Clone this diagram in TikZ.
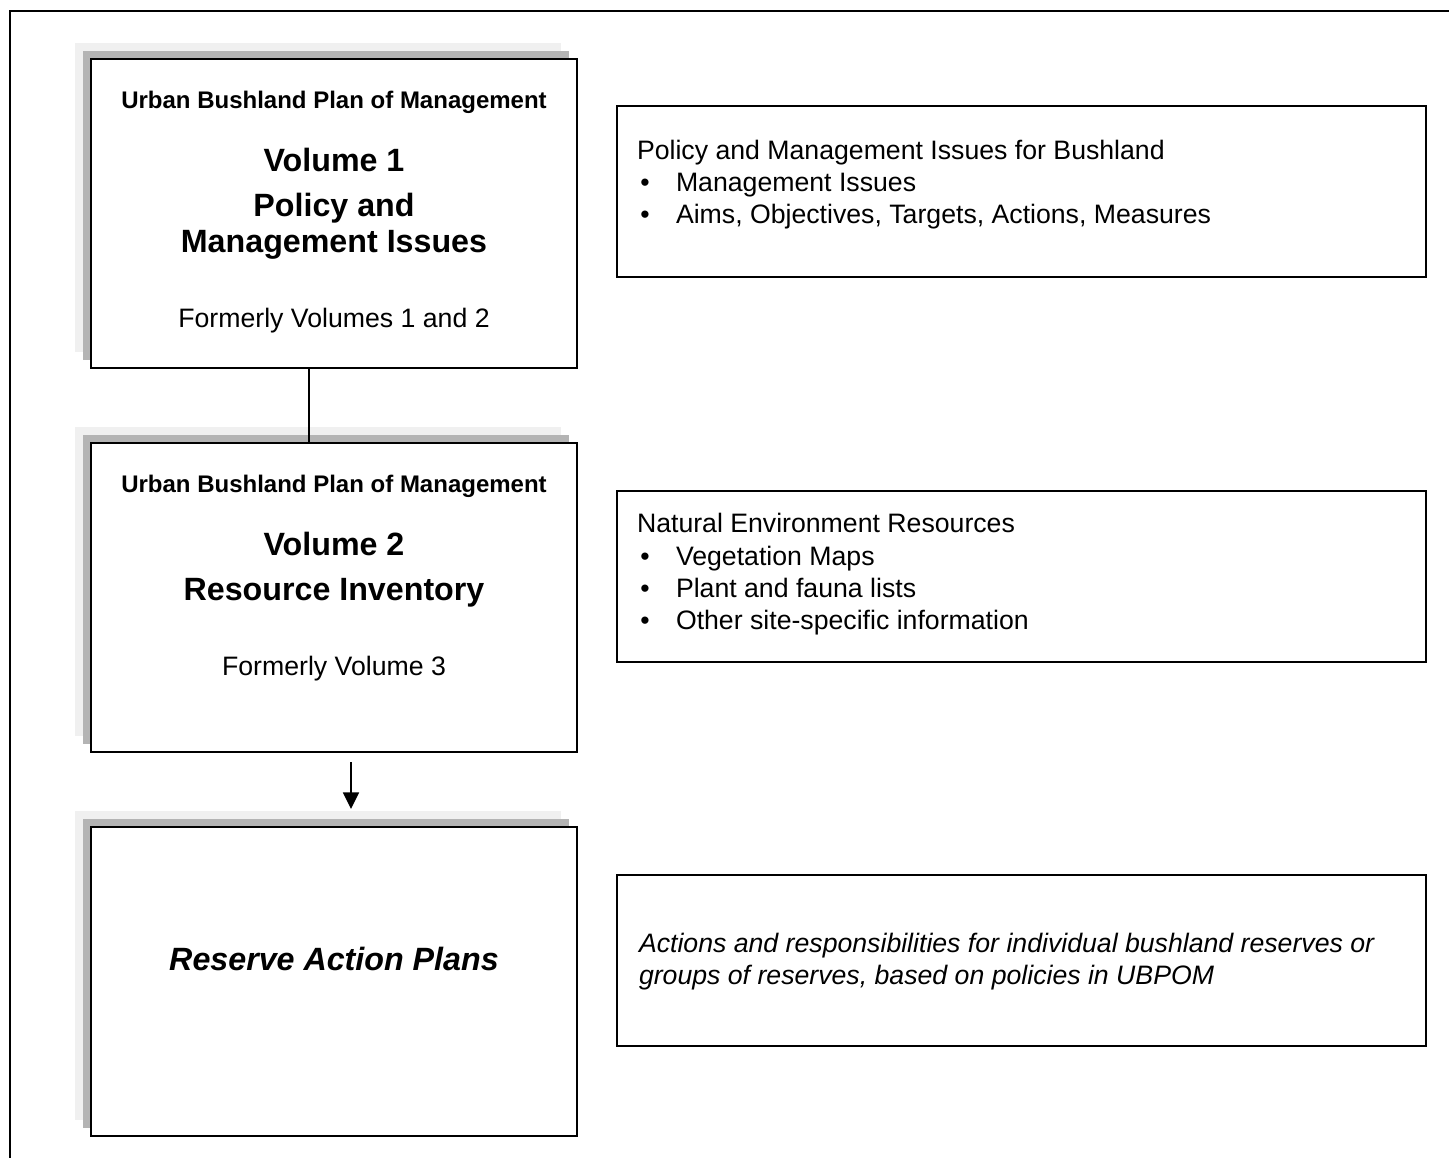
\documentclass[tikz,border=0pt]{standalone}
\usepackage{fontspec}
\setmainfont{Liberation Sans}
\usetikzlibrary{arrows.meta,backgrounds,calc}
\newcommand{\pxu}{0.45pt}
\definecolor{shadowdark}{RGB}{180,180,180}
\definecolor{shadowlight}{RGB}{240,240,240}
\begin{document}
\begin{tikzpicture}[x=0.45pt,y=-0.45pt,
  mainbox/.style={draw=black, line width=0.9pt, fill=white, minimum width=486*\pxu, minimum height=309*\pxu, inner sep=0pt, outer sep=0pt},
  notebox/.style={draw=black, line width=0.9pt, fill=white, minimum width=809*\pxu, minimum height=171*\pxu, inner sep=0pt, outer sep=0pt},
  txt/.style={anchor=base, inner sep=0pt, outer sep=0pt},
  subhead/.style={txt, font=\bfseries\fontsize{10.8}{13}\selectfont},
  head/.style={txt, font=\bfseries\fontsize{14.5}{17}\selectfont},
  body/.style={txt, font=\fontsize{12}{14}\selectfont},
  lefttxt/.style={body, anchor=base west},
  conn/.style={draw=black, line width=0.75pt}
]
\useasboundingbox (0,0) rectangle (1449,1158);
\clip (0,0) rectangle (1449,1158);
% outer frame (only left and top edges fall inside the picture)
\draw[line width=0.9pt] (10,1200) -- (10,11) -- (1500,11);

% left boxes
\node[mainbox] (b1) at (334,213.5) {};
\node[mainbox] (b2) at (334,597.5) {};
\node[mainbox] (b3) at (334,981.5) {};

\begin{scope}[on background layer]
  \foreach \b in {b1,b2,b3} {
    \fill[shadowlight] ($(\b.north west)+(-16,-16)$) rectangle ($(\b.south east)+(-16,-16)$);
    \fill[shadowdark] ($(\b.north west)+(-8,-8)$) rectangle ($(\b.south east)+(-8,-8)$);
  }
\end{scope}

% right boxes
\node[notebox] (n1) at (1021.5,191) {};
\node[notebox] (n2) at (1021.5,576.5) {};
\node[notebox] (n3) at (1021.5,960.5) {};

% texts box 1
\node[subhead] (t1a) at (334,108) {Urban Bushland Plan of Management};
\node[head] (t1b) at (334,171.5) {Volume 1};
\node[head] (t1c) at (334,216.5) {Policy and};
\node[head] (t1d) at (334,252.5) {Management Issues};
\node[body] (t1e) at (334,327.5) {Formerly Volumes 1 and 2};

% texts box 2
\node[subhead] (t2a) at (334,492) {Urban Bushland Plan of Management};
\node[head] (t2b) at (334,555.5) {Volume 2};
\node[head] (t2c) at (334,600.5) {Resource Inventory};
\node[body] (t2d) at (334,675) {Formerly Volume 3};

% text box 3
\node[head, font=\bfseries\itshape\fontsize{14.5}{17}\selectfont] (t3a) at (334,970.5) {Reserve Action Plans};

% right texts
\node[lefttxt] (r1a) at (637,159.5) {Policy and Management Issues for Bushland};
\node[body] (r1b1) at (645,191.5) {•};
\node[lefttxt] (r1b) at (676,191.5) {Management Issues};
\node[body] (r1c1) at (645,223.5) {•};
\node[lefttxt] (r1c) at (676,223.5) {Aims, Objectives, Targets, Actions, Measures};

\node[lefttxt] (r2a) at (637,532.5) {Natural Environment Resources};
\node[body] (r2b1) at (645,565.5) {•};
\node[lefttxt] (r2b) at (676,565.5) {Vegetation Maps};
\node[body] (r2c1) at (645,597.5) {•};
\node[lefttxt] (r2c) at (676,597.5) {Plant and fauna lists};
\node[body] (r2d1) at (645,629.5) {•};
\node[lefttxt] (r2d) at (676,629.5) {Other site-specific information};

\node[lefttxt, font=\itshape\fontsize{12}{14}\selectfont] (r3a) at (639,952.5) {Actions and responsibilities for individual bushland reserves or};
\node[lefttxt, font=\itshape\fontsize{12}{14}\selectfont] (r3b) at (639,984.5) {groups of reserves, based on policies in UBPOM};

% connectors
\draw[conn] ($(b1.south)+(-25,0)$) -- ($(b2.north)+(-25,0)$);
\coordinate (a1) at ($(b2.south)+(17,10)$);
\coordinate (a2) at ($(b3.north)+(17,-18)$);
\draw[conn, -{Triangle[length=7.5pt,width=7.2pt]}] (a1) -- (a2);
\end{tikzpicture}
\end{document}
